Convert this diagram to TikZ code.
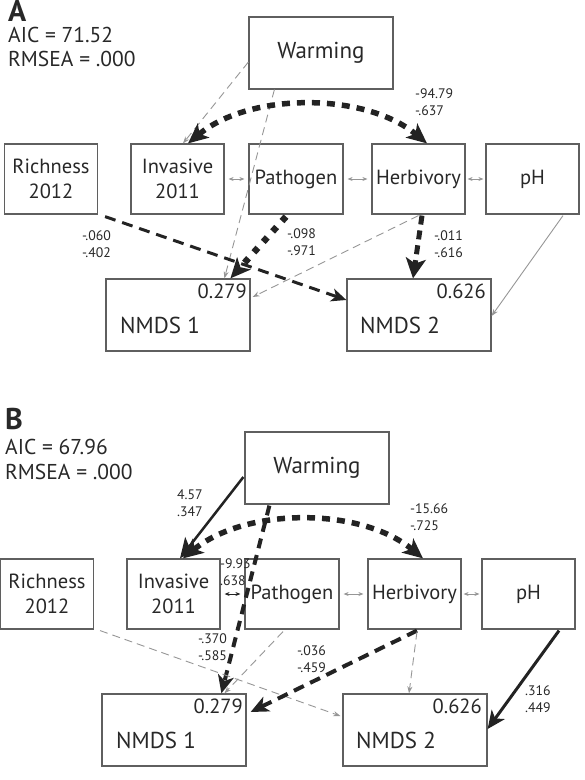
\documentclass[tikz,border=0pt]{standalone}
\usepackage{fontspec}
\setmainfont{PT Sans}
\usetikzlibrary{arrows.meta,calc}
\definecolor{txt}{RGB}{40,40,40}
\definecolor{bord}{RGB}{95,95,95}
\definecolor{lg}{RGB}{150,150,150}
\definecolor{blk}{RGB}{35,35,35}
\tikzset{
 box/.style={draw=bord, line width=1.2pt, minimum width=93pt, minimum height=70pt, inner sep=0pt, text=txt, font=\fontsize{20.5}{25}\selectfont, align=center},
 wide/.style={minimum width=144pt, minimum height=72pt},
 valtxt/.style={inner sep=0pt, text=txt, font=\fontsize{20.5}{25}\selectfont},
 bigtxt/.style={inner sep=0pt, text=txt, font=\fontsize{23}{25}\selectfont},
 stat/.style={anchor=base west, inner sep=0pt, text=txt, font=\fontsize{21.5}{25}\selectfont},
 ttl/.style={anchor=base west, inner sep=0pt, text=txt, font=\fontsize{30}{30}\selectfont\bfseries},
 lab/.style={anchor=base west, inner sep=0pt, text=txt, font=\fontsize{13.8}{17}\selectfont},
 gdash/.style={draw=lg, line width=0.9pt, dash pattern=on 8pt off 5pt, -{Stealth[length=7pt,width=5pt]}},
 gsolid/.style={draw=lg, line width=0.9pt, -{Stealth[length=7pt,width=5pt]}},
 dbl/.style={draw=lg, line width=0.8pt, {Stealth[length=5pt,width=4pt]}-{Stealth[length=5pt,width=4pt]}},
 dblk/.style={draw=blk, line width=0.9pt, {Stealth[length=5pt,width=4pt]}-{Stealth[length=5pt,width=4pt]}},
 curvearrow/.style={draw=blk, line width=5.5pt, dash pattern=on 8pt off 7pt, {Stealth[length=20pt,width=18pt,inset=5pt]}-{Stealth[length=20pt,width=18pt,inset=5pt]}},
 pathA/.style={draw=blk, line width=6.5pt, dash pattern=on 6pt off 8pt, -{Stealth[length=20pt,width=18pt,inset=5pt]}},
 richA/.style={draw=blk, line width=3pt, dash pattern=on 11pt off 7pt, -{Stealth[length=15pt,width=13pt,inset=4pt]}},
 herbA/.style={draw=blk, line width=5pt, dash pattern=on 9pt off 6pt, -{Stealth[length=20pt,width=20pt,inset=5pt]}},
 warmB/.style={draw=blk, line width=4pt, dash pattern=on 10pt off 7pt, -{Stealth[length=18pt,width=16pt,inset=5pt]}},
 herbB/.style={draw=blk, line width=4pt, dash pattern=on 11pt off 7pt, -{Stealth[length=18pt,width=16pt,inset=5pt]}},
 solidB/.style={draw=blk, line width=2.5pt, -{Stealth[length=20pt,width=18pt,inset=5pt]}},
 solidC/.style={draw=blk, line width=3pt, -{Stealth[length=18pt,width=16pt,inset=5pt]}},
}
\newcommand\panelboxes[1]{%
 \node[box, wide, font=\fontsize{23}{25}\selectfont] (#1w) at (321,53) {Warming};
 \node[box] (#1rich) at (51,179) {Richness\\2012};
 \node[box] (#1inv) at (177.5,179) {Invasive\\2011};
 \node[box, minimum width=94pt] (#1path) at (296,179) {Pathogen};
 \node[box] (#1herb) at (418.5,179) {Herbivory};
 \node[box] (#1ph) at (532.5,179) {pH};
 \node[box, wide] (#1n1) at (178,315) {};
 \node[box, wide] (#1n2) at (419,315) {};
 \node[valtxt, anchor=base east] (#1n1v) at (247,298) {0.279};
 \node[bigtxt, anchor=base west] (#1n1t) at (120,333) {NMDS 1};
 \node[valtxt, anchor=base east] (#1n2v) at (486,298) {0.626};
 \node[bigtxt, anchor=base west] (#1n2t) at (360,333) {NMDS 2};
}
\newcommand\twolab[2]{\begin{tabular}[t]{@{}l@{}}#1\\#2\end{tabular}}
\begin{document}
\begin{tikzpicture}[x=1pt,y=-1pt]
\useasboundingbox (0,0) rectangle (585,780);
% ---------- Panel A ----------
\node[ttl] (ta) at (8,21) {A};
\node[stat] (aica) at (8,42) {AIC = 71.52};
\node[stat] (rmsa) at (8,66) {RMSEA = .000};
\panelboxes{a}
\draw[gdash] ($(aw.west)+(0,9)$) -- ($(ainv.north)+(5.5,0)$);
\draw[gdash] ($(aw.south west)+(26,0)$) -- ($(an1.north west)+(119,0)$);
\draw[curvearrow] ($(ainv.north)+(10.5,0)$) .. controls (250,92) and (365,92) .. ($(aherb.north)+(8.5,0)$);
\draw[pathA] ($(apath.south)+(-10,2)$) -- ($(an1.north west)+(125,0)$);
\draw[richA] ($(arich.south east)+(7,2)$) -- ($(an2.west)+(0,-15)$);
\draw[gdash] ($(aherb.south)+(0,1)$) -- ($(an1.east)+(2,-18)$);
\draw[herbA] ($(aherb.south)+(3.5,1)$) -- ($(an2.north)+(-6,0)$);
\draw[gsolid] ($(aph.south)+(30.5,1)$) -- ($(an2.east)+(0,1)$);
\draw[dbl] ($(ainv.east)+(4,0)$) -- ($(apath.west)+(-4,0)$);
\draw[dbl] ($(apath.east)+(4,0)$) -- ($(aherb.west)+(-4,0)$);
\draw[dbl] ($(aherb.east)+(2,0)$) -- ($(aph.west)+(-2,0)$);
\node[lab] (la1) at (415,98) {\twolab{-94.79}{-.637}};
\node[lab] (la2) at (287,238) {\twolab{-.098}{-.971}};
\node[lab] (la3) at (82,240) {\twolab{-.060}{-.402}};
\node[lab] (la4) at (434,240) {\twolab{-.011}{-.616}};
% ---------- Panel B ----------
\begin{scope}[shift={(-4,415)}]
\node[ttl] (tb) at (9,14) {B};
\node[stat] (aicb) at (9,39) {AIC = 67.96};
\node[stat] (rmsb) at (9,64) {RMSEA = .000};
\panelboxes{b}
\draw[solidB] ($(bw.west)+(-1,9)$) -- ($(binv.north)+(6.5,0)$);
\draw[warmB] ($(bw.south west)+(25,1)$) -- ($(bn1.north west)+(120,0)$);
\draw[curvearrow] ($(binv.north)+(9.5,0)$) .. controls (250,92) and (365,92) .. ($(bherb.north)+(8.5,0)$);
\draw[dblk] ($(binv.east)+(4,0)$) -- ($(bpath.west)+(-4,0)$);
\draw[dbl] ($(bpath.east)+(4,0)$) -- ($(bherb.west)+(-4,0)$);
\draw[dbl] ($(bherb.east)+(2,0)$) -- ($(bph.west)+(-2,0)$);
\draw[gdash] ($(bpath.south)+(-9,2)$) -- ($(bn1.north west)+(123,0)$);
\draw[gdash] ($(brich.south east)+(6,1)$) -- ($(bn2.west)+(-2,-14)$);
\draw[herbB] ($(bherb.south)+(2.5,1)$) -- ($(bn1.east)+(4,-18)$);
\draw[gdash] ($(bherb.south)+(2.5,2)$) -- ($(bn2.north)+(-6,0)$);
\draw[solidC] ($(bph.south)+(30.5,1)$) -- ($(bn2.east)+(0,-1)$);
\node[lab] (lb1) at (181,84) {\twolab{4.57}{.347}};
\node[lab] (lb2) at (414,98) {\twolab{-15.66}{-.725}};
\node[lab] (lb3) at (224,153) {\twolab{-9.93}{.638}};
\node[lab] (lb4) at (202,228) {\twolab{-.370}{-.585}};
\node[lab] (lb5) at (301,240) {\twolab{-.036}{-.459}};
\node[lab] (lb6) at (529,280) {\twolab{.316}{.449}};
\end{scope}
\end{tikzpicture}
\end{document}
